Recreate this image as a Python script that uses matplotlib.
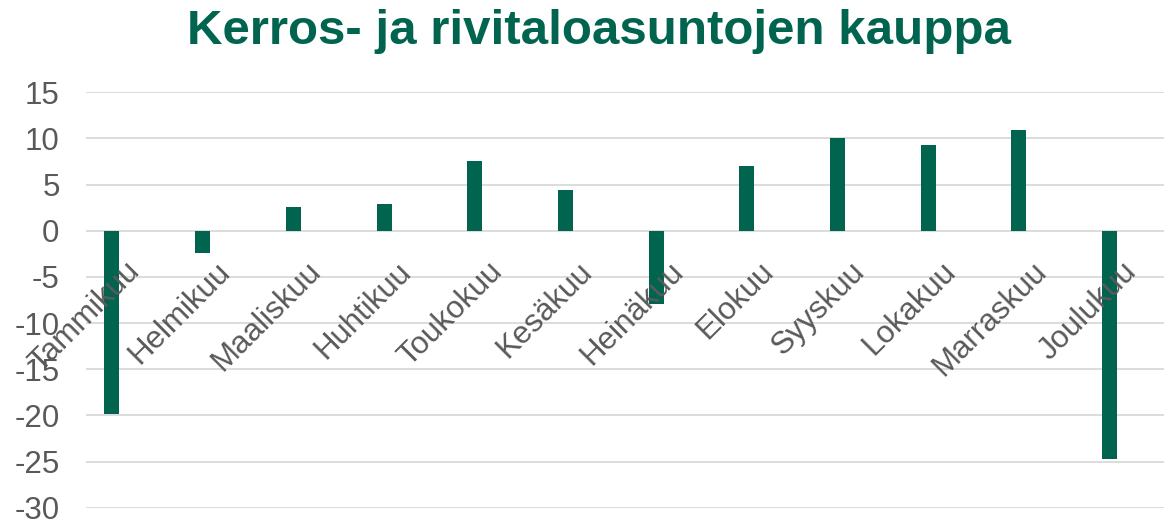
import matplotlib
matplotlib.use("Agg")
import matplotlib.pyplot as plt

months = ["Tammikuu", "Helmikuu", "Maaliskuu", "Huhtikuu", "Toukokuu", "Kesäkuu",
          "Heinäkuu", "Elokuu", "Syyskuu", "Lokakuu", "Marraskuu", "Joulukuu"]
values = [-19.8, -2.4, 2.6, 2.9, 7.6, 4.4, -7.9, 7.0, 10.1, 9.3, 10.9, -24.7]
yticks = [15, 10, 5, 0, -5, -10, -15, -20, -25, -30]

GREEN = "#00644F"
GRAY = "#595959"
plt.rcParams['font.family'] = ['Liberation Sans', 'DejaVu Sans']

W, H = 1164, 521
fig = plt.figure(figsize=(W / 100, H / 100), dpi=100)
ax = fig.add_axes([86 / W, (H - 507.7) / H, 1 - 86 / W, 415.4 / H])

band = 90.7
x = list(range(len(months)))
ax.bar([i - 0.214 for i in x], values, width=0.165, color=GREEN, zorder=3)

ax.set_ylim(-30, 15)
ax.set_xlim(-0.5, -0.5 + (W - 86) / band)
ax.set_yticks(yticks)
ax.set_yticklabels([str(t) for t in yticks], fontsize=22.5, color=GRAY)
ax.tick_params(axis='y', length=0, pad=19)
ax.set_xticks([])
ax.grid(axis='y', color='#D9D9D9', linewidth=1.3, zorder=0)
for s in ax.spines.values():
    s.set_visible(False)

for i, m in enumerate(months):
    ax.text(i - 0.08, -2.8, m, rotation=45, rotation_mode='anchor',
            ha='right', va='top', fontsize=22.5, color=GRAY, zorder=4)

fig.text(599 / W, 1 - 32 / H, "Kerros- ja rivitaloasuntojen kauppa",
         ha='center', va='center', fontsize=35.5, fontweight='bold', color=GREEN)

fig.savefig("out.png", dpi=100)
